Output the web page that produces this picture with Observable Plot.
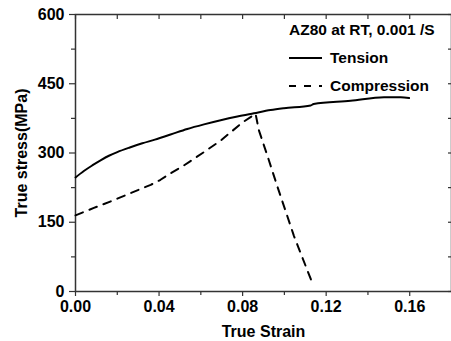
<!DOCTYPE html>
<html><head><meta charset="utf-8">
<script src="https://cdn.jsdelivr.net/npm/d3@7"></script>
<script src="https://cdn.jsdelivr.net/npm/@observablehq/plot@0.6"></script>
<style>
body{margin:0;background:#fff}
#c{position:relative;width:451px;height:341px;font-family:"Liberation Sans",Arial,sans-serif;font-weight:bold}
#legend{position:absolute;left:289px;top:22px;font-size:15.5px;line-height:16px;color:#000}
#legend .row{display:flex;align-items:center;height:16px;margin-top:12px}
#legend svg{margin-right:8px}
</style>
</head><body><div id="c"></div>
<script>
const tensionStrain = [0, 0.004, 0.008, 0.012, 0.016, 0.020, 0.026, 0.032, 0.038, 0.0455, 0.0535, 0.0615, 0.0695, 0.0775, 0.0854, 0.0934, 0.0998, 0.1126, 0.114, 0.1317, 0.1477, 0.1557, 0.1597];
const tensionStress = [247, 261, 273, 284, 294, 302, 312, 321, 329, 340, 352, 362, 371, 379, 386, 393, 397, 403, 406, 413, 421, 421, 419];
const compStrain = [0, 0.0088, 0.0184, 0.0311, 0.036, 0.0407, 0.0455, 0.0519, 0.0615, 0.0695, 0.0799, 0.0862, 0.0878, 0.0918, 0.0966, 0.1046, 0.1134];
const compStress = [165, 181, 198, 222, 231, 242, 256, 273, 302, 327, 366, 385, 349, 295, 228, 120, 18];
const xTicks = [0, 0.04, 0.08, 0.12, 0.16];
const xMinor = [0.02, 0.06, 0.10, 0.14];
const yTicks = [0, 150, 300, 450, 600];
const yMinor = [75, 225, 375, 525];
const legendTitle = "AZ80 at RT, 0.001 /S";
const seriesNames = ["Tension", "Compression"];

const tension = tensionStrain.map((x, i) => ({x, y: tensionStress[i]}));
const comp = compStrain.map((x, i) => ({x, y: compStress[i]}));
const axisColor = "#333";

const plot = Plot.plot({
  width: 451, height: 341,
  marginLeft: 75, marginRight: 0, marginTop: 14, marginBottom: 50,
  style: {fontFamily: "'Liberation Sans', Arial, sans-serif", fontSize: "16px", fontWeight: "bold", color: "#000", background: "#fff"},
  x: {domain: [0, 0.18]},
  y: {domain: [0, 600]},
  marks: [
    Plot.axisX({ticks: xTicks, tickSize: 5, tickPadding: 4, tickFormat: d3.format(".2f"), stroke: axisColor, fill: "#000", strokeWidth: 1.2, label: "True Strain", labelAnchor: "center", labelOffset: 45, labelArrow: "none"}),
    Plot.axisX({ticks: xMinor, tickSize: 4, text: null, label: null, stroke: axisColor, strokeWidth: 1.2}),
    Plot.axisX({anchor: "top", ticks: xTicks.concat(xMinor), tickSize: -4, text: null, label: null, stroke: axisColor, strokeWidth: 1.2}),
    Plot.axisY({ticks: yTicks, tickSize: 6, tickPadding: 5, stroke: axisColor, fill: "#000", strokeWidth: 1.2, label: "True stress(MPa)", labelAnchor: "center", labelOffset: 60, labelArrow: "none"}),
    Plot.axisY({ticks: yMinor, tickSize: 4, text: null, label: null, stroke: axisColor, strokeWidth: 1.2}),
    Plot.axisY({anchor: "right", ticks: yTicks.concat(yMinor), tickSize: -4, text: null, label: null, stroke: axisColor, strokeWidth: 1.2}),
    Plot.frame({stroke: axisColor, strokeWidth: 1.5}),
    Plot.line(tension, {x: "x", y: "y", stroke: "#000", strokeWidth: 2, curve: "monotone-x"}),
    Plot.line(comp, {x: "x", y: "y", stroke: "#000", strokeWidth: 2, strokeDasharray: "8,7"})
  ]
});
const c = document.getElementById("c");
c.appendChild(plot);
const lg = document.createElement("div");
lg.id = "legend";
lg.innerHTML = `<div>${legendTitle}</div>` + seriesNames.map((n, i) =>
  `<div class="row"><svg width="33" height="4"><line x1="0" x2="33" y1="2" y2="2" stroke="#000" stroke-width="2" ${i ? 'stroke-dasharray="7,8"' : ''}/></svg>${n}</div>`).join("");
c.appendChild(lg);
</script>
</body></html>
